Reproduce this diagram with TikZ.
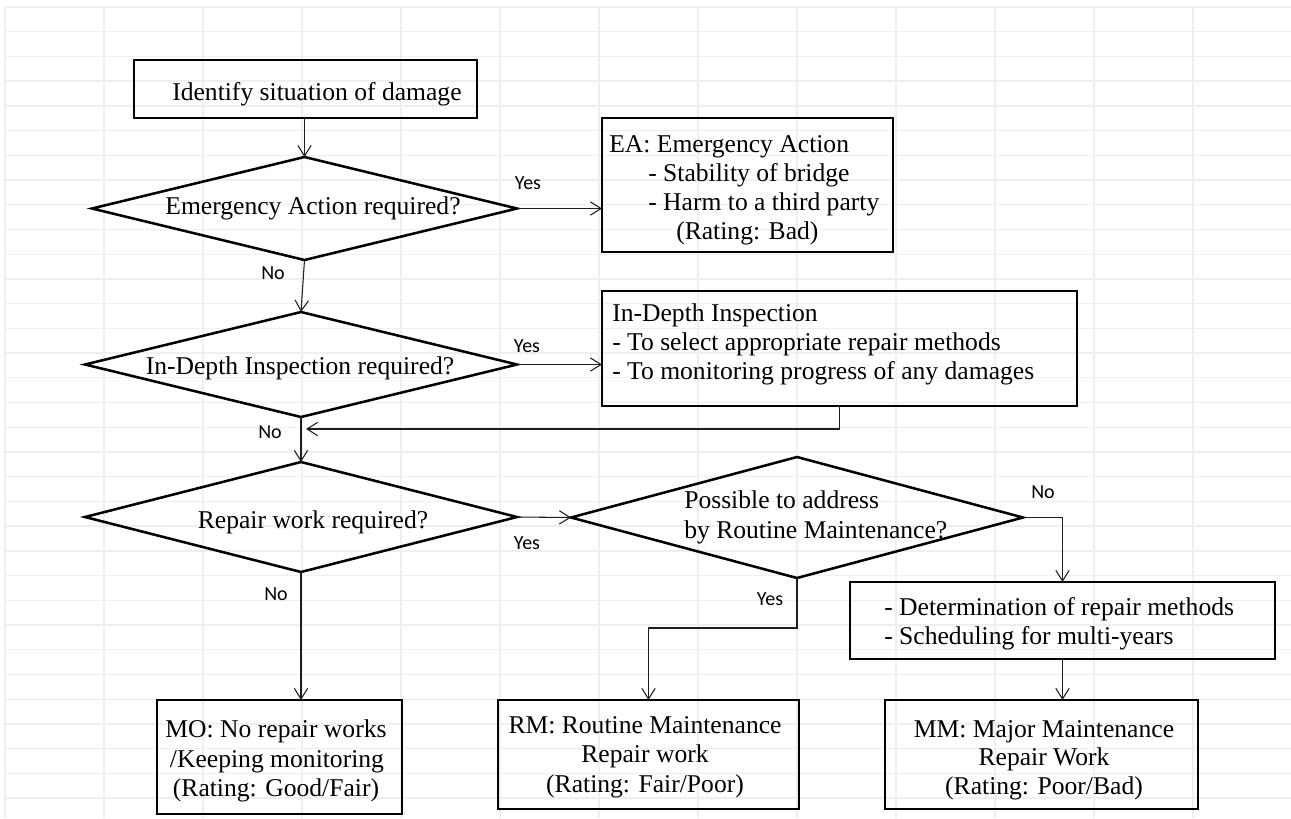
\documentclass[tikz,border=0pt]{standalone}
\usepackage{fontspec}
\setmainfont{Liberation Serif}
\newfontfamily\labfont{Carlito}
\usetikzlibrary{arrows.meta,shapes.geometric,calc}
\definecolor{gridc}{RGB}{238,240,240}
\definecolor{linec}{RGB}{30,30,30}
\begin{document}
\begin{tikzpicture}[x=0.75pt,y=-0.75pt,
  bx/.style 2 args={draw, line width=1.9pt, minimum width=#1*0.75pt, minimum height=#2*0.75pt, inner sep=0pt, outer sep=0pt},
  dm/.style 2 args={draw, diamond, line width=1.9pt, minimum width=#1*0.75pt, minimum height=#2*0.75pt, inner sep=0pt, outer sep=0pt},
  tx/.style={inner sep=0pt, font=\fontsize{19.2}{22}\selectfont},
  lab/.style={inner sep=0pt, font=\labfont\fontsize{15}{18}\selectfont},
  arr/.style={draw=linec, line width=0.8pt, -{Straight Barb[length=8pt,width=10pt]}},
  gridline/.style={line width=1pt, draw=gridc}]
\useasboundingbox (0,0) rectangle (1291,818);
% spreadsheet grid
\foreach \i in {0,...,13} \draw[gridline] ({5+99*\i},7) -- ({5+99*\i},818);
\foreach \j in {0,...,32} \draw[gridline] (5,{7+24.72*\j}) -- (1291,{7+24.72*\j});

% boxes
\node[bx={343}{58}] (b1) at (305.5,89) {};
\node[bx={291}{134}] (ea) at (747.5,185) {};
\node[bx={475}{115}] (idi) at (839.5,348.5) {};
\node[bx={425}{77}] (prep) at (1062.5,620.5) {};
\node[bx={245}{114}] (mo) at (279.5,757) {};
\node[bx={301}{109}] (rm) at (648.5,754.5) {};
\node[bx={313}{109}] (mm) at (1041.5,754.5) {};

% diamonds
\node[dm={425}{103}] (d1) at (304.5,208.5) {};
\node[dm={432}{105}] (d2) at (301,364.5) {};
\node[dm={432}{110}] (d3) at (301,517) {};
\node[dm={452}{121}] (d4) at (797,517.5) {};

% texts
\node[tx, anchor=base west] (b1t) at (172,100) {Identify situation of damage};
\node[tx, anchor=base west] (ea1) at (609,152) {EA: Emergency Action};
\node[tx, anchor=base west] (ea2) at (648,181) {- Stability of bridge};
\node[tx, anchor=base west] (ea3) at (648,210) {- Harm to a third party};
\node[tx, anchor=base west] (ea4) at (676,239) {(Rating: Bad)};
\node[tx, anchor=base west] (idi1) at (612,321) {In-Depth Inspection};
\node[tx, anchor=base west] (idi2) at (612,350) {- To select appropriate repair methods};
\node[tx, anchor=base west] (idi3) at (612,379) {- To monitoring progress of any damages};
\node[tx, anchor=base west] (pr1) at (884,615) {- Determination of repair methods};
\node[tx, anchor=base west] (pr2) at (884,644) {- Scheduling for multi-years};
\node[tx, anchor=base] (mo1) at (276,737) {MO: No repair works};
\node[tx, anchor=base] (mo2) at (277,767) {/Keeping monitoring};
\node[tx, anchor=base] (mo3) at (276,796) {(Rating: Good/Fair)};
\node[tx, anchor=base] (rm1) at (645,733) {RM: Routine Maintenance};
\node[tx, anchor=base] (rm2) at (645,762) {Repair work};
\node[tx, anchor=base] (rm3) at (645,792) {(Rating: Fair/Poor)};
\node[tx, anchor=base] (mm1) at (1044,737) {MM: Major Maintenance};
\node[tx, anchor=base] (mm2) at (1044,765) {Repair Work};
\node[tx, anchor=base] (mm3) at (1044,794) {(Rating: Poor/Bad)};
\node[tx, anchor=base] (d1t) at (313,214) {Emergency Action required?};
\node[tx, anchor=base] (d2t) at (300,374) {In-Depth Inspection required?};
\node[tx, anchor=base] (d3t) at (313,528) {Repair work required?};
\node[tx, anchor=base west] (d4t1) at (684,508) {Possible to address};
\node[tx, anchor=base west] (d4t2) at (684,538) {by Routine Maintenance?};

% labels
\node[lab] (y1) at (528,183) {Yes};
\node[lab] (n1) at (273,273) {No};
\node[lab] (y2) at (527,346) {Yes};
\node[lab] (n2) at (270,432) {No};
\node[lab] (y3) at (527,543) {Yes};
\node[lab] (n3) at (276,594) {No};
\node[lab] (n4) at (1043,492) {No};
\node[lab] (y4) at (770,599) {Yes};

% connectors
\coordinate (ret) at (306,429);
\draw[arr] (b1.south -| d1.north) -- (d1.north);
\draw[arr] (d1.east) -- (d1.east -| ea.west);
\draw[arr] (d1.south) -- (d2.north);
\draw[arr] (d2.east) -- (d2.east -| idi.west);
\draw[arr] (idi.south) |- (ret);
\draw[arr] (d2.south) -- (d3.north);
\draw[arr] (d3.east) -- (d4.west);
\draw[arr] (d3.south) -- (d3.south |- mo.north);
\draw[arr] (d4.south) -- ++(0,50) -| (rm.north);
\draw[arr] (d4.east) -| (prep.north);
\draw[arr] (prep.south) -- (prep.south |- mm.north);
\end{tikzpicture}
\end{document}
